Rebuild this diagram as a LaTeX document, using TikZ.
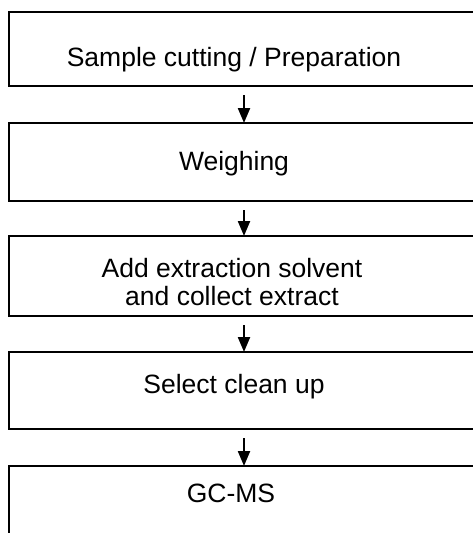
\documentclass[tikz,border=0pt]{standalone}
\usepackage{fontspec}
\setmainfont{Liberation Sans}
\usetikzlibrary{arrows.meta}
\tikzset{
  stepbox/.style={draw=black, line width=2.2pt, minimum width=470pt, outer sep=0pt, inner sep=0pt},
  steptext/.style={font=\fontsize{26.5}{28}\selectfont, align=center, inner sep=0pt, anchor=base},
  flow/.style={-{Triangle[width=12pt,length=15pt]}, line width=2.2pt}
}
\begin{document}
\begin{tikzpicture}[x=1pt, y=-1pt]
    \useasboundingbox (0,0) rectangle (472,533);
    % boxes
    \node[stepbox, minimum height=74pt] (cut) at (244,49) {};
    \node[stepbox, minimum height=78pt] (weigh) at (244,162) {};
    \node[stepbox, minimum height=80pt] (extract) at (244,276) {};
    \node[stepbox, minimum height=77pt] (clean) at (244,390.5) {};
    \node[stepbox, minimum height=80pt] (gcms) at (244,506) {};
    % texts
    \node[steptext] (cuttext) at (234,66) {Sample cutting / Preparation};
    \node[steptext] (weightext) at (234,170) {Weighing};
    \node[steptext] (extracttext) at (232,305.5) {Add extraction solvent\\and collect extract};
    \node[steptext] (cleantext) at (234,393) {Select clean up};
    \node[steptext] (gcmstext) at (231,502) {GC-MS};
    % arrows
    \draw[flow] ([yshift=-9pt]cut.south) -- (weigh.north);
    \draw[flow] ([yshift=-9pt]weigh.south) -- (extract.north);
    \draw[flow] ([yshift=-9pt]extract.south) -- (clean.north);
    \draw[flow] ([yshift=-9pt]clean.south) -- (gcms.north);
\end{tikzpicture}
\end{document}
